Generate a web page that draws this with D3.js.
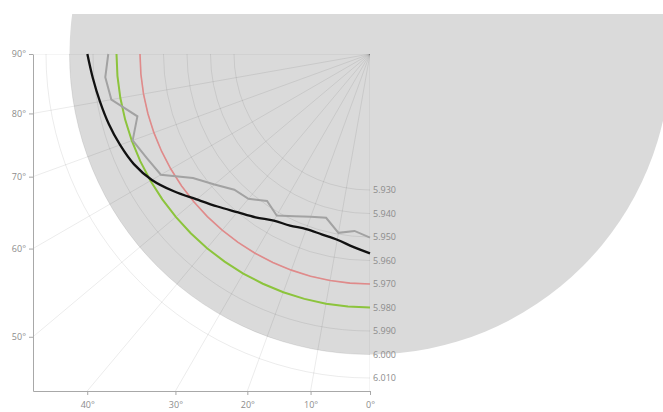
<!DOCTYPE html>
<html>
<head>
<meta charset="utf-8">
<script src="https://cdn.jsdelivr.net/npm/d3@7"></script>
<style>
  body { margin: 0; background: #fff; }
  text { font-family: "Open Sans", "DejaVu Sans", sans-serif; font-size: 9px; fill: #8c8c8c; }
</style>
</head>
<body>
<div id="chart"></div>
<script>
// angle (degrees from the downward vertical) of every data point
var angles = [0, 5, 10, 15, 20, 25, 30, 35, 40, 45, 50, 55, 60, 65, 70, 75, 80, 85, 90];

// radial values
var blackSeries = [5.957, 5.9545, 5.9524, 5.9516, 5.9514, 5.9527, 5.954, 5.957, 5.960, 5.9639, 5.9684,
                   5.974, 5.9793, 5.983, 5.9853, 5.9872, 5.9888, 5.9905, 5.9924];
var greySeries  = [5.9503, 5.9477, 5.9494, 5.9443, 5.9458, 5.9483, 5.9515, 5.9485, 5.9526, 5.9538, 5.9585,
                   5.9641, 5.9749, 5.9769, 5.9796, 5.9746, 5.9839, 5.9852, 5.9835];
var redSeries   = [5.970, 5.970, 5.970, 5.970, 5.970, 5.970, 5.970, 5.970, 5.970, 5.970, 5.970,
                   5.970, 5.970, 5.970, 5.970, 5.970, 5.970, 5.970, 5.970];
var greenSeries = [5.980, 5.980, 5.980, 5.980, 5.980, 5.980, 5.980, 5.980, 5.980, 5.980, 5.980,
                   5.980, 5.980, 5.980, 5.980, 5.980, 5.980, 5.980, 5.980];

var radialTicks = [5.93, 5.94, 5.95, 5.96, 5.97, 5.98, 5.99, 6.00, 6.01];
var gridAngles = [0, 10, 20, 30, 40, 50, 60, 70, 80, 90];
var backgroundRadius = 6.00;

var bottomMajor = [0, 10, 20, 30, 40];
var bottomLabels = ["0°", "10°", "20°", "30°", "40°"];
var bottomMinor = [2, 4, 6, 8, 12, 14, 16, 18, 22, 24, 26, 28, 32, 34, 36, 38, 42, 44];
var leftMajor = [90, 80, 70, 60, 50];
var leftLabels = ["90°", "80°", "70°", "60°", "50°"];
var leftMinor = [88, 86, 84, 82, 78, 76, 74, 72, 68, 66, 64, 62, 58, 56, 54, 52, 48, 46];

var fullwidth = 663, fullheight = 412;
var cx = 370, cy = 54, size = 337;
var rad = Math.PI / 180;

var svg = d3.select("#chart").append("svg")
    .attr("width", fullwidth)
    .attr("height", fullheight);

var rScale = d3.scaleLinear().domain([5.93, 6.01]).range([136, 324]);

var defs = svg.append("defs");
defs.append("clipPath").attr("id", "topclip")
    .append("rect").attr("x", 0).attr("y", 14).attr("width", fullwidth).attr("height", fullheight);
defs.append("clipPath").attr("id", "boxclip")
    .append("rect").attr("x", cx - size).attr("y", cy).attr("width", size).attr("height", size);

// grey background disk
svg.append("circle")
    .attr("clip-path", "url(#topclip)")
    .attr("cx", cx).attr("cy", cy)
    .attr("r", rScale(backgroundRadius))
    .attr("fill", "#dadada");

// grid
var grid = svg.append("g").attr("clip-path", "url(#boxclip)");

grid.selectAll("line.spoke")
    .data(gridAngles)
    .enter().append("line")
    .attr("class", "spoke")
    .attr("x1", cx).attr("y1", cy)
    .attr("x2", function(d) { return cx - 600 * Math.sin(d * rad); })
    .attr("y2", function(d) { return cy + 600 * Math.cos(d * rad); })
    .attr("stroke", "#000").attr("stroke-opacity", 0.08).attr("stroke-width", 1);

grid.selectAll("path.ring")
    .data(radialTicks)
    .enter().append("path")
    .attr("class", "ring")
    .attr("d", function(d) {
        var p = d3.path();
        p.arc(cx, cy, rScale(d), Math.PI / 2, Math.PI, false);
        return p.toString();
    })
    .attr("fill", "none")
    .attr("stroke", "#000").attr("stroke-opacity", 0.08).attr("stroke-width", 1);

// axes: positions on the box edges follow tan of the angle
var xAxisScale = d3.scaleLinear().domain([0, 1]).range([cx, cx - size]);
var yAxisScale = d3.scaleLinear().domain([0, 1]).range([cy, cy + size]);
function tanDeg(a) { return Math.tan(a * rad); }
function cotDeg(a) { return Math.cos(a * rad) / Math.sin(a * rad); }

var xg = svg.append("g").attr("transform", "translate(0," + (cy + size) + ")").attr("color", "#a8a8a8");
xg.call(d3.axisBottom(xAxisScale).tickValues(bottomMinor.map(tanDeg)).tickSize(3).tickSizeOuter(0).tickFormat(""));
xg.call(d3.axisBottom(xAxisScale).tickValues(bottomMajor.map(tanDeg)).tickSize(4).tickSizeOuter(0).tickPadding(7)
    .tickFormat(function(d, i) { return bottomLabels[i]; }));

var yg = svg.append("g").attr("transform", "translate(" + (cx - size) + ",0)").attr("color", "#a8a8a8");
yg.call(d3.axisLeft(yAxisScale).tickValues(leftMinor.map(cotDeg)).tickSize(3).tickSizeOuter(0).tickFormat(""));
yg.call(d3.axisLeft(yAxisScale).tickValues(leftMajor.map(cotDeg)).tickSize(4).tickSizeOuter(0).tickPadding(3)
    .tickFormat(function(d, i) { return leftLabels[i]; }));

svg.selectAll(".tick text").attr("fill", "#8c8c8c").style("font-size", "9px");

// radial labels down the 0° spoke
var fmt = d3.format(".3f");
svg.selectAll("text.rlabel")
    .data(radialTicks)
    .enter().append("text")
    .attr("class", "rlabel")
    .attr("x", cx + 3)
    .attr("y", function(d) { return cy + rScale(d); })
    .attr("dy", "0.35em")
    .text(function(d) { return fmt(d); });

// data lines
var line = d3.lineRadial()
    .angle(function(d) { return Math.PI + d.a * rad; })
    .radius(function(d) { return rScale(d.v); });

function pts(values) {
    return angles.map(function(a, i) { return {a: a, v: values[i]}; });
}

var plot = svg.append("g").attr("transform", "translate(" + cx + "," + cy + ")");

plot.append("path").datum(pts(redSeries))
    .attr("d", line).attr("fill", "none").attr("stroke", "#e08a8a").attr("stroke-width", 1.6);
plot.append("path").datum(pts(greenSeries))
    .attr("d", line).attr("fill", "none").attr("stroke", "#8cc43c").attr("stroke-width", 2);
plot.append("path").datum(pts(greySeries))
    .attr("d", line).attr("fill", "none").attr("stroke", "#a2a2a2").attr("stroke-width", 2);
plot.append("path").datum(pts(blackSeries))
    .attr("d", line.curve(d3.curveCatmullRom)).attr("fill", "none").attr("stroke", "#111").attr("stroke-width", 2.3);
</script>
</body>
</html>
